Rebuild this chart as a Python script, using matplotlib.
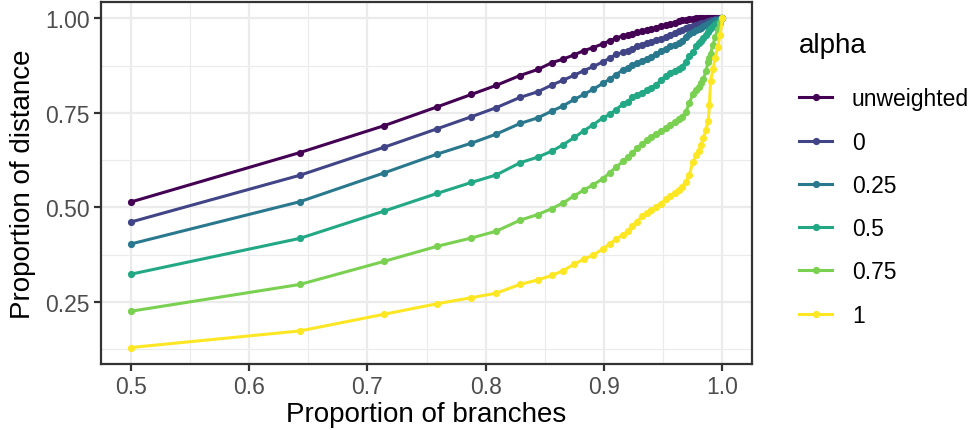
import matplotlib
matplotlib.use("Agg")
import matplotlib.pyplot as plt
from matplotlib.ticker import FixedLocator

plt.rcParams['font.family'] = ['Liberation Sans', 'DejaVu Sans']

# Proportion of branches (shared x values)
x_branches = [0.500, 0.643, 0.714, 0.759, 0.788, 0.809, 0.829, 0.844, 0.856, 0.865,
              0.875, 0.883, 0.891, 0.899, 0.905, 0.910, 0.916, 0.920, 0.924, 0.928,
              0.932, 0.936, 0.940, 0.944, 0.948, 0.952, 0.956, 0.960, 0.963, 0.966,
              0.969, 0.972, 0.975, 0.978, 0.980, 0.982, 0.984, 0.986, 0.988, 0.989,
              0.990, 0.992, 0.994, 0.996, 0.998, 1.000]

# Proportion of distance per alpha
y_unweighted = [0.514, 0.645, 0.716, 0.766, 0.799, 0.823, 0.849, 0.865, 0.883, 0.892,
                0.904, 0.915, 0.923, 0.933, 0.941, 0.948, 0.954, 0.957, 0.960, 0.963,
                0.966, 0.969, 0.972, 0.975, 0.979, 0.983, 0.986, 0.989, 0.992, 0.995,
                0.997, 0.998, 0.999, 1.000, 1.000, 1.000, 1.000, 1.000, 1.000, 1.000,
                1.000, 1.000, 1.000, 1.000, 1.000, 1.000]
y_a0 = [0.461, 0.585, 0.659, 0.708, 0.740, 0.764, 0.791, 0.806, 0.824, 0.836,
        0.850, 0.862, 0.873, 0.885, 0.895, 0.905, 0.910, 0.915, 0.920, 0.926,
        0.931, 0.935, 0.939, 0.943, 0.946, 0.950, 0.955, 0.961, 0.966, 0.970,
        0.974, 0.977, 0.980, 0.983, 0.985, 0.987, 0.989, 0.991, 0.993, 0.994,
        0.995, 0.997, 0.998, 0.999, 1.000, 1.000]
y_a025 = [0.403, 0.515, 0.591, 0.641, 0.670, 0.694, 0.722, 0.737, 0.755, 0.768,
          0.786, 0.799, 0.813, 0.828, 0.840, 0.851, 0.864, 0.870, 0.876, 0.882,
          0.888, 0.893, 0.899, 0.905, 0.913, 0.920, 0.926, 0.931, 0.935, 0.940,
          0.950, 0.959, 0.965, 0.970, 0.973, 0.976, 0.979, 0.982, 0.985, 0.987,
          0.989, 0.992, 0.995, 0.997, 0.999, 1.000]
y_a05 = [0.323, 0.418, 0.490, 0.537, 0.566, 0.586, 0.618, 0.633, 0.649, 0.665,
         0.685, 0.703, 0.719, 0.737, 0.746, 0.759, 0.773, 0.780, 0.791, 0.797,
         0.804, 0.810, 0.816, 0.825, 0.836, 0.848, 0.855, 0.861, 0.865, 0.872,
         0.886, 0.900, 0.912, 0.926, 0.934, 0.941, 0.948, 0.956, 0.965, 0.969,
         0.974, 0.980, 0.986, 0.991, 0.996, 1.000]
y_a075 = [0.225, 0.296, 0.357, 0.397, 0.419, 0.437, 0.466, 0.481, 0.497, 0.511,
          0.531, 0.546, 0.560, 0.576, 0.592, 0.606, 0.622, 0.633, 0.645, 0.657,
          0.668, 0.677, 0.686, 0.694, 0.702, 0.710, 0.719, 0.727, 0.733, 0.740,
          0.752, 0.775, 0.800, 0.810, 0.818, 0.828, 0.840, 0.860, 0.885, 0.895,
          0.907, 0.930, 0.952, 0.972, 0.988, 1.000]
y_a1 = [0.129, 0.173, 0.217, 0.245, 0.261, 0.273, 0.296, 0.308, 0.320, 0.332,
        0.350, 0.363, 0.374, 0.390, 0.404, 0.415, 0.428, 0.437, 0.450, 0.462,
        0.477, 0.485, 0.492, 0.500, 0.510, 0.522, 0.530, 0.538, 0.547, 0.555,
        0.567, 0.585, 0.620, 0.638, 0.648, 0.665, 0.683, 0.705, 0.728, 0.770,
        0.835, 0.865, 0.895, 0.925, 0.955, 1.000]

labels = ["unweighted", "0", "0.25", "0.5", "0.75", "1"]
series = [y_unweighted, y_a0, y_a025, y_a05, y_a075, y_a1]
colors = ["#440154", "#414487", "#2A788E", "#22A884", "#7AD151", "#FDE725"]

x_ticks = [0.5, 0.6, 0.7, 0.8, 0.9, 1.0]
x_tick_labels = ["0.5", "0.6", "0.7", "0.8", "0.9", "1.0"]
y_ticks = [0.25, 0.50, 0.75, 1.00]
y_tick_labels = ["0.25", "0.50", "0.75", "1.00"]

fig = plt.figure(figsize=(9.69, 4.31), dpi=100)
ax = fig.add_axes([101/969, 1-365/431, (752-101)/969, (365-3)/431])

for ys, lab, col in zip(series, labels, colors):
    ax.plot(x_branches, ys, color=col, lw=2.2, marker='o', ms=5.2,
            markeredgewidth=0, label=lab, solid_joinstyle='round', zorder=3)

ax.set_xlim(0.475, 1.025)
ymin = min(min(s) for s in series)
ymax = 1.0
pad = (ymax - ymin) * 0.05
ax.set_ylim(ymin - pad, ymax + pad)

ax.set_xticks(x_ticks)
ax.set_xticklabels(x_tick_labels)
ax.set_yticks(y_ticks)
ax.set_yticklabels(y_tick_labels)
ax.xaxis.set_minor_locator(FixedLocator([0.55, 0.65, 0.75, 0.85, 0.95]))
ax.yaxis.set_minor_locator(FixedLocator([0.125, 0.375, 0.625, 0.875]))

ax.grid(which='major', color='#EBEBEB', lw=1.6, zorder=0)
ax.grid(which='minor', color='#EBEBEB', lw=0.8, zorder=0)
ax.set_axisbelow(True)

for sp in ax.spines.values():
    sp.set_color('#333333')
    sp.set_linewidth(1.6)

ax.tick_params(which='major', length=5, width=1.6, color='#333333',
               labelsize=16.5, labelcolor='#4D4D4D', pad=3)
ax.tick_params(which='minor', length=0)

ax.set_xlabel("Proportion of branches", fontsize=20, color='black', labelpad=2)
ax.set_ylabel("Proportion of distance", fontsize=20, color='black', labelpad=7)

leg = ax.legend(title="alpha", loc='upper left', bbox_to_anchor=(790/969, 1-24/431),
                bbox_transform=fig.transFigure, frameon=False, fontsize=16.5,
                title_fontsize=20, handlelength=1.45, handletextpad=0.85,
                labelspacing=0.885, borderaxespad=0, alignment='left')
leg._legend_box.sep = 21

fig.savefig("out.png", dpi=100)
